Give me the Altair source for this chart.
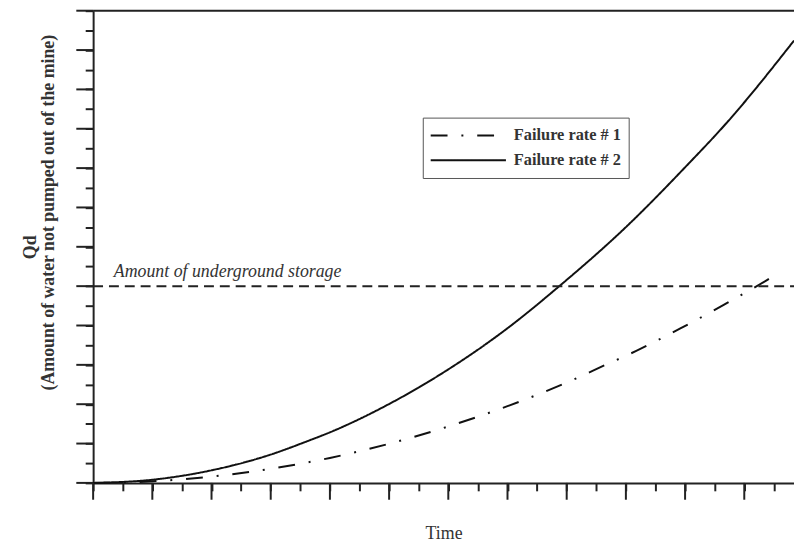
import altair as alt
import pandas as pd

# ---- data (in axis tick units) ----
series_names = ["Failure rate # 1", "Failure rate # 2"]
rate1_t = [0, 2, 4, 6, 8, 10, 12, 14, 16, 17.3, 18.35, 19.84, 21.32, 22.78, 23.2]
rate1_q = [0, 0.08, 0.32, 0.72, 1.27, 1.99, 2.87, 3.9, 5.1, 5.99, 6.71, 7.85, 9.06, 10.32, 10.71]
rate2_t = [0, 2, 4, 6, 7.22, 8, 10, 12, 14, 15.75, 18, 20, 21.44, 23.68]
rate2_q = [0, 0.16, 0.64, 1.44, 2.11, 2.57, 4.01, 5.77, 7.86, 10.0, 13.0, 16.04, 18.36, 22.48]
storage_level = 10
storage_label = "Amount of underground storage"
y_title_main = "Qd"
y_title_sub = "(Amount of water not pumped out of the mine)"
x_title = "Time"
x_ticks = list(range(0, 24))
y_ticks = list(range(0, 25))
x_long = [v for v in x_ticks if v % 2 == 0]
y_long = [v for v in y_ticks if v % 2 == 0]

W, H = 708, 477
XMAX = 23.68
SERIF = "Liberation Serif"
AX = "#222222"

df = pd.concat([
    pd.DataFrame({"t": rate1_t, "q": rate1_q, "series": series_names[0]}),
    pd.DataFrame({"t": rate2_t, "q": rate2_q, "series": series_names[1]}),
])

xs = alt.Scale(domain=[0, XMAX], nice=False, zero=False)
ys = alt.Scale(domain=[0, 24], nice=False, zero=False)

x_axis = alt.Axis(values=x_ticks, labels=False, grid=False, tickSize=8,
                  tickWidth=2, domainWidth=2, tickColor=AX, domainColor=AX,
                  title=x_title, titleFont=SERIF, titleFontSize=18,
                  titleFontWeight="normal", titleColor="#333", titlePadding=33)
y_axis = alt.Axis(values=y_ticks, labels=False, grid=False, tickSize=8,
                  tickWidth=2, domainWidth=2, tickColor=AX, domainColor=AX, title=None)

X = lambda: alt.X("t:Q", scale=xs, axis=x_axis)
Y = lambda: alt.Y("q:Q", scale=ys, axis=y_axis)

lines = alt.Chart(df).mark_line(color="#111111", strokeWidth=2, interpolate="monotone").encode(
    x=X(), y=Y(),
    strokeDash=alt.StrokeDash("series:N",
                              scale=alt.Scale(domain=series_names, range=[[17, 14, 2, 14], [1, 0]]),
                              legend=alt.Legend(title=None, orient="none", legendX=333, legendY=108,
                                                symbolType="stroke", symbolSize=5776,
                                                symbolStrokeWidth=2, symbolStrokeColor="#111",
                                                clipHeight=22, rowPadding=3, padding=7,
                                                labelOffset=7, labelFont=SERIF, labelFontSize=16.5,
                                                labelFontWeight="bold", labelColor="#333",
                                                strokeColor="#555", fillColor="white")),
)

storage_df = pd.DataFrame({"q": [storage_level]})
storage = alt.Chart(storage_df).mark_rule(color=AX, strokeWidth=2, strokeDash=[10, 6]).encode(
    y=Y(), x=alt.value(0), x2=alt.value(W))

label_df = pd.DataFrame({"t": [0.7], "q": [storage_level], "label": [storage_label]})
label = alt.Chart(label_df).mark_text(align="left", baseline="alphabetic", dy=-9, font=SERIF,
                                      fontStyle="italic", fontSize=18, color="#333").encode(
    x=X(), y=Y(), text="label:N")

xl = alt.Chart(pd.DataFrame({"t": x_long})).mark_rule(color=AX, strokeWidth=2).encode(
    x=X(), y=alt.value(H), y2=alt.value(H + 17))
yl = alt.Chart(pd.DataFrame({"q": y_long})).mark_rule(color=AX, strokeWidth=2).encode(
    y=Y(), x=alt.value(0), x2=alt.value(-17))
top = alt.Chart(pd.DataFrame({"q": [24]})).mark_rule(color=AX, strokeWidth=2).encode(
    y=Y(), x=alt.value(0), x2=alt.value(W))

title_main = alt.Chart(pd.DataFrame({"s": [y_title_main]})).mark_text(
    angle=270, align="center", baseline="bottom", font=SERIF, fontSize=18, fontWeight="bold",
    color="#333").encode(text="s:N", x=alt.value(-54), y=alt.value(239))
title_sub = alt.Chart(pd.DataFrame({"s": [y_title_sub]})).mark_text(
    angle=270, align="center", baseline="bottom", font=SERIF, fontSize=18, fontWeight="bold",
    color="#333").encode(text="s:N", x=alt.value(-36), y=alt.value(204))

chart = alt.layer(lines, storage, label, xl, yl, top, title_main, title_sub).properties(
    width=W, height=H,
    autosize=alt.AutoSizeParams(type="none"),
    padding={"left": 86, "top": 0, "right": 0, "bottom": 60},
).configure_view(stroke=None)

chart.save("out.html", embed_options={"renderer": "svg", "actions": False})
